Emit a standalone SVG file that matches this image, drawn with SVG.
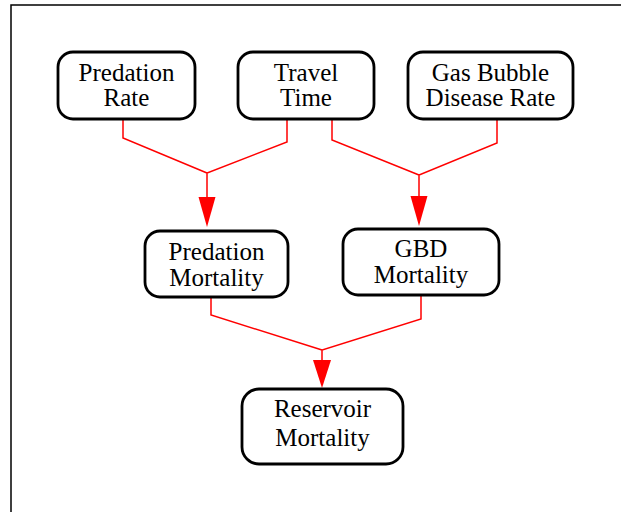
<svg xmlns="http://www.w3.org/2000/svg" width="621" height="512" viewBox="0 0 621 512">
<defs>
<style>
.box{fill:#fff;stroke:#000;stroke-width:2.8}
.lbl{font-family:"Liberation Serif","Times New Roman",serif;font-size:25px;fill:#000;text-anchor:middle}
.edge{fill:none;stroke:#ff0000;stroke-width:1.5}
.head{fill:#ff0000}
</style>
</defs>
<rect x="0" y="0" width="621" height="512" fill="#fff"/>
<rect x="11" y="5" width="700" height="700" fill="none" stroke="#000" stroke-width="1.5"/>
<g id="connectors">
<path class="edge" d="M123,119 V138 L207,173 M287,119 V142 L207,173 V200"/>
<polygon class="head" points="198.5,197 215.5,197 207,227"/>
<path class="edge" d="M332,119 V140 L419,175 M497,119 V143 L419,175 V199"/>
<polygon class="head" points="410.5,196 427.5,196 419,226"/>
<path class="edge" d="M211,297 V315 L322,350 M421,295 V319 L322,350 V363"/>
<polygon class="head" points="313,360 331,360 322,388"/>
</g>
<g id="predation_rate">
<rect class="box" x="58" y="52" width="137" height="67" rx="15"/>
<text class="lbl" x="126.5" y="80.5">Predation</text>
<text class="lbl" x="126.5" y="106">Rate</text>
</g>
<g id="travel_time">
<rect class="box" x="238" y="52" width="136" height="67" rx="15"/>
<text class="lbl" x="306" y="80.5">Travel</text>
<text class="lbl" x="306" y="106">Time</text>
</g>
<g id="gas_bubble_disease_rate">
<rect class="box" x="408" y="52" width="165" height="67" rx="15"/>
<text class="lbl" x="490.5" y="80.5">Gas Bubble</text>
<text class="lbl" x="490.5" y="106">Disease Rate</text>
</g>
<g id="predation_mortality">
<rect class="box" x="145" y="231" width="143" height="66" rx="15"/>
<text class="lbl" x="216.5" y="260">Predation</text>
<text class="lbl" x="216.5" y="286">Mortality</text>
</g>
<g id="gbd_mortality">
<rect class="box" x="343" y="229" width="156" height="66" rx="15"/>
<text class="lbl" x="421" y="257">GBD</text>
<text class="lbl" x="421" y="283">Mortality</text>
</g>
<g id="reservoir_mortality">
<rect class="box" x="242" y="389" width="161" height="75" rx="17"/>
<text class="lbl" x="322.5" y="417">Reservoir</text>
<text class="lbl" x="322.5" y="446">Mortality</text>
</g>
</svg>
